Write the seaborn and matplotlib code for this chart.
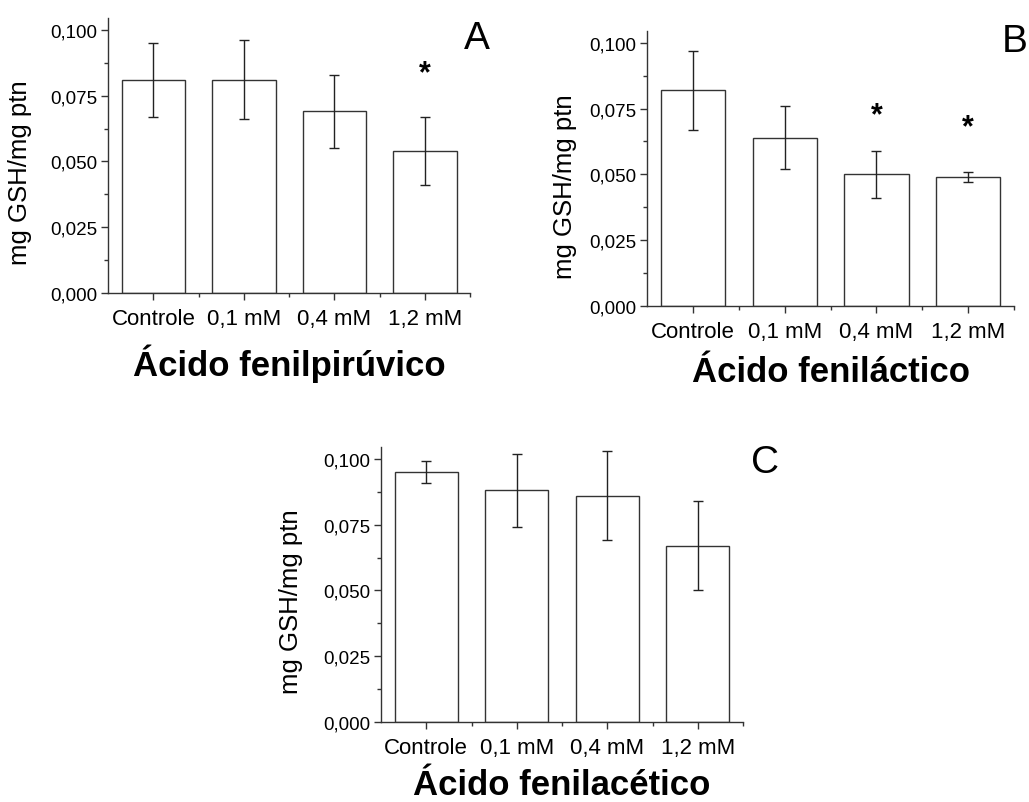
import numpy as np
import pandas as pd
import matplotlib
matplotlib.use("Agg")
import matplotlib.pyplot as plt
import seaborn as sns
from matplotlib.ticker import MultipleLocator, FuncFormatter

sns.set_theme(style="ticks")
plt.rcParams['font.family'] = ['Liberation Sans', 'DejaVu Sans']

categories = ["Controle", "0,1 mM", "0,4 mM", "1,2 mM"]

a_means = [0.081, 0.081, 0.069, 0.054]
a_err = [0.014, 0.015, 0.014, 0.013]
a_stars = [None, None, None, 0.0837]

b_means = [0.082, 0.064, 0.050, 0.049]
b_err = [0.015, 0.012, 0.009, 0.002]
b_stars = [None, None, 0.0726, 0.068]

c_means = [0.095, 0.088, 0.086, 0.067]
c_err = [0.004, 0.014, 0.017, 0.017]
c_stars = [None, None, None, None]

titles = ["Ácido fenilpirúvico", "Ácido feniláctico", "Ácido fenilacético"]
letters = ["A", "B", "C"]

W, H = 1029, 803
fig = plt.figure(figsize=(W / 100, H / 100), dpi=100)

panels = [
    dict(means=a_means, err=a_err, stars=a_stars, title=titles[0], letter=letters[0],
         rect=[0.105, 0.6339, 0.352, 0.3424], ylab=(-0.21, 0.44), xlab=-0.185, let=(1.019, 0.927)),
    dict(means=b_means, err=b_err, stars=b_stars, title=titles[1], letter=letters[1],
         rect=[0.6288, 0.6177, 0.3567, 0.3425], ylab=(-0.19, 0.436), xlab=-0.18, let=(1.003, 0.964)),
    dict(means=c_means, err=c_err, stars=c_stars, title=titles[2], letter=letters[2],
         rect=[0.3703, 0.0996, 0.3518, 0.3425], ylab=(-0.215, 0.44), xlab=-0.168, let=(1.06, 0.945)),
]

edge = "#333333"
for p in panels:
    ax = fig.add_axes(p["rect"])
    df = pd.DataFrame({"cat": categories, "val": p["means"]})
    sns.barplot(data=df, x="cat", y="val", ax=ax, width=0.7, color="white",
                edgecolor=edge, linewidth=1.0, errorbar=None)
    pos = np.arange(len(categories))
    ax.errorbar(pos, p["means"], yerr=p["err"], fmt="none", ecolor="#222222",
                elinewidth=1.0, capsize=3.5, capthick=1.0)
    for i, s in enumerate(p["stars"]):
        if s is not None:
            ax.text(pos[i], s, "*", ha="center", va="center", fontsize=22,
                    fontweight="bold", color="black")
    ax.set_xlim(-0.5, 3.5)
    ax.set_ylim(0, 0.1045)
    ax.yaxis.set_major_locator(MultipleLocator(0.025))
    ax.yaxis.set_minor_locator(MultipleLocator(0.0125))
    ax.yaxis.set_major_formatter(FuncFormatter(lambda v, _: f"{v:.3f}".replace(".", ",")))
    ax.set_xticks(pos)
    ax.set_xticklabels(categories)
    ax.set_xticks(pos + 0.5, minor=True)
    for sp in ["top", "right"]:
        ax.spines[sp].set_visible(False)
    for sp in ["left", "bottom"]:
        ax.spines[sp].set_color(edge)
        ax.spines[sp].set_linewidth(1.0)
    ax.tick_params(axis="y", which="major", direction="out", length=5, width=1,
                   color=edge, labelsize=13.5, pad=3, labelcolor="black")
    ax.tick_params(axis="y", which="minor", direction="out", length=3, width=1, color=edge)
    ax.tick_params(axis="x", which="major", direction="out", length=5, width=1,
                   color=edge, labelsize=16, pad=6, labelcolor="black")
    ax.tick_params(axis="x", which="minor", direction="out", length=3, width=1, color=edge)
    ax.set_ylabel("mg GSH/mg ptn", fontsize=18.5, color="black")
    ax.yaxis.set_label_coords(*p["ylab"])
    ax.set_xlabel(p["title"], fontsize=25, fontweight="bold", color="black")
    ax.xaxis.set_label_coords(0.5, p["xlab"])
    ax.xaxis.label.set_verticalalignment("top")
    ax.text(p["let"][0], p["let"][1], p["letter"], transform=ax.transAxes,
            ha="center", va="center", fontsize=28, color="black")
    ax.set_facecolor("white")

fig.patch.set_facecolor("white")
fig.savefig("out.png", dpi=100, facecolor="white")
